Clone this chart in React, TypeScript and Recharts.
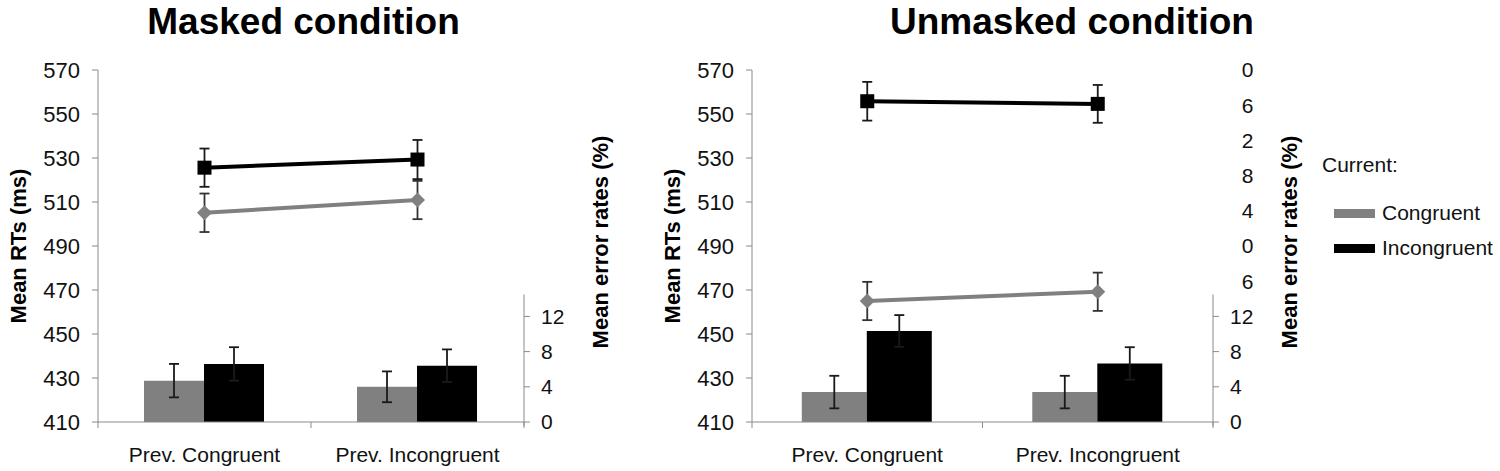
import React from "react";
import { ComposedChart, Bar, Line, XAxis, YAxis, ErrorBar, Legend } from "recharts";

const categories = ["Prev. Congruent", "Prev. Incongruent"];

// Masked condition: RTs (ms) with SE, error rates (%) with SE
const maskedRtCongruent = [505.1, 510.9];
const maskedRtCongruentSe = [8.75, 8.7];
const maskedRtIncongruent = [525.6, 529.3];
const maskedRtIncongruentSe = [8.7, 8.9];
const maskedErrCongruent = [4.7, 4.0];
const maskedErrCongruentSe = [1.9, 1.75];
const maskedErrIncongruent = [6.6, 6.4];
const maskedErrIncongruentSe = [1.9, 1.85];

// Unmasked condition
const unmaskedRtCongruent = [465.0, 469.2];
const unmaskedRtCongruentSe = [8.7, 8.7];
const unmaskedRtIncongruent = [555.8, 554.6];
const unmaskedRtIncongruentSe = [8.8, 8.6];
const unmaskedErrCongruent = [3.4, 3.4];
const unmaskedErrCongruentSe = [1.85, 1.85];
const unmaskedErrIncongruent = [10.35, 6.65];
const unmaskedErrIncongruentSe = [1.8, 1.85];

const rtTicks = [410, 430, 450, 470, 490, 510, 530, 550, 570];
const errTicksMasked = [0, 4, 8, 12];
const errTicksUnmasked = [0, 4, 8, 12, 16, 20, 24, 28, 32, 36, 40];

const FONT = '"Liberation Sans", Arial, sans-serif';
const TEXT = "#111";
const AXIS = "#8a8a8a";
const GRAY = "#808080";
const CHART_H = 471;
const PLOT_TOP = 70;
const X_AXIS_H = 49;
const PLOT_H = CHART_H - PLOT_TOP - X_AXIS_H;
const ERR_MAX = 40;
const ERR_LINE_TOP = 14.5;
const DIGIT_W = 11.7;

const makeRows = (
  rtC: number[], rtCSe: number[], rtI: number[], rtISe: number[],
  erC: number[], erCSe: number[], erI: number[], erISe: number[]
) =>
  categories.map((name, i) => ({
    name,
    rtCongruent: rtC[i],
    rtCongruentSe: rtCSe[i],
    rtIncongruent: rtI[i],
    rtIncongruentSe: rtISe[i],
    errCongruent: erC[i],
    errCongruentSe: erCSe[i],
    errIncongruent: erI[i],
    errIncongruentSe: erISe[i],
  }));

const maskedRows = makeRows(
  maskedRtCongruent, maskedRtCongruentSe, maskedRtIncongruent, maskedRtIncongruentSe,
  maskedErrCongruent, maskedErrCongruentSe, maskedErrIncongruent, maskedErrIncongruentSe
);
const unmaskedRows = makeRows(
  unmaskedRtCongruent, unmaskedRtCongruentSe, unmaskedRtIncongruent, unmaskedRtIncongruentSe,
  unmaskedErrCongruent, unmaskedErrCongruentSe, unmaskedErrIncongruent, unmaskedErrIncongruentSe
);

const SquareDot = (props: any) => {
  const { cx, cy, index } = props;
  if (cx == null || cy == null) return <g key={`sq-${index}`} />;
  return <rect key={`sq-${index}`} x={cx - 7} y={cy - 7} width={14} height={14} fill="#000" />;
};

const DiamondDot = (props: any) => {
  const { cx, cy, index } = props;
  if (cx == null || cy == null) return <g key={`dm-${index}`} />;
  const r = 7.5;
  return (
    <polygon
      key={`dm-${index}`}
      points={`${cx},${cy - r} ${cx + r},${cy} ${cx},${cy + r} ${cx - r},${cy}`}
      fill={GRAY}
    />
  );
};

const CurrentLegend = (props: any) => {
  const items = (props.payload || []).filter((p: any) => p.type !== "none");
  return (
    <div style={{ fontFamily: FONT, fontSize: 21, color: TEXT, textAlign: "left" }}>
      <div style={{ lineHeight: "24px", marginBottom: 18.5 }}>Current:</div>
      {items.map((p: any) => (
        <div key={p.value} style={{ display: "flex", alignItems: "center", height: 35, paddingLeft: 12 }}>
          <span style={{ display: "inline-block", width: 41, height: 9, background: p.color, marginRight: 7 }} />
          <span>{p.value}</span>
        </div>
      ))}
    </div>
  );
};

type PanelProps = {
  rows: any[];
  left: number;
  width: number;
  yLeftW: number;
  yRightW: number;
  marginRight: number;
  errTicks: number[];
  trimTens: boolean;
  withLegend: boolean;
};

function Panel(p: PanelProps) {
  const plotW = p.width - p.yLeftW - p.yRightW - p.marginRight;
  const band = plotW / categories.length;
  const midY = PLOT_TOP + PLOT_H / 2;

  const xTick = (t: any) => {
    const { x, y, payload, index } = t;
    const last = index === categories.length - 1;
    return (
      <g>
        <line x1={x - band / 2} y1={y} x2={x - band / 2} y2={y + 6} stroke={AXIS} />
        {last && <line x1={x + band / 2} y1={y} x2={x + band / 2} y2={y + 6} stroke={AXIS} />}
        <text x={x} y={y + 40} textAnchor="middle" fontSize={21} fill={TEXT} fontFamily={FONT}>
          {payload.value}
        </text>
      </g>
    );
  };

  const errTick = (t: any) => {
    const { x, y, payload } = t;
    const v = payload.value as number;
    const trimmed = p.trimTens && v > 12;
    const label = trimmed ? String(v % 10) : String(v);
    return (
      <g>
        {v <= 12 && <line x1={x} y1={y} x2={x + 6} y2={y} stroke={AXIS} />}
        {v === 0 && (
          <line x1={x} y1={y + 4} x2={x} y2={y - (PLOT_H * ERR_LINE_TOP) / ERR_MAX} stroke={AXIS} />
        )}
        <text x={x + 17 + (trimmed ? DIGIT_W : 0)} y={y} dy="0.35em" fontSize={21} fill={TEXT} fontFamily={FONT}>
          {label}
        </text>
      </g>
    );
  };

  const rtTitle = () => (
    <text
      x={p.yLeftW - 80}
      y={midY}
      transform={`rotate(-90, ${p.yLeftW - 80}, ${midY})`}
      textAnchor="middle"
      dominantBaseline="central"
      fontWeight="bold"
      fontSize={22}
      fill="#000"
      fontFamily={FONT}
    >
      Mean RTs (ms)
    </text>
  );

  const errTitleX = p.yLeftW + plotW + 76;
  const errTitle = () => (
    <text
      x={errTitleX}
      y={midY - 4}
      transform={`rotate(-90, ${errTitleX}, ${midY - 4})`}
      textAnchor="middle"
      dominantBaseline="central"
      fontWeight="bold"
      fontSize={22}
      fill="#000"
      fontFamily={FONT}
    >
      Mean error rates (%)
    </text>
  );

  return (
    <div style={{ position: "absolute", left: p.left, top: 0 }}>
      <ComposedChart
        width={p.width}
        height={CHART_H}
        data={p.rows}
        margin={{ top: PLOT_TOP, right: p.marginRight, bottom: 0, left: 0 }}
        barGap={0}
        barCategoryGap="21.6%"
      >
        <XAxis
          dataKey="name"
          height={X_AXIS_H}
          interval={0}
          tickSize={0}
          tickMargin={0}
          tickLine={false}
          axisLine={{ stroke: AXIS }}
          tick={xTick}
        />
        <YAxis
          yAxisId="rt"
          orientation="left"
          width={p.yLeftW}
          domain={[410, 570]}
          ticks={rtTicks}
          interval={0}
          tickSize={6}
          tickMargin={12}
          axisLine={{ stroke: AXIS }}
          tickLine={{ stroke: AXIS }}
          tick={{ fontSize: 22, fill: TEXT, fontFamily: FONT }}
          label={rtTitle}
        />
        <YAxis
          yAxisId="err"
          orientation="right"
          width={p.yRightW}
          domain={[0, ERR_MAX]}
          ticks={p.errTicks}
          interval={0}
          tickSize={0}
          tickMargin={0}
          axisLine={false}
          tickLine={false}
          tick={errTick}
          label={errTitle}
        />
        <Bar yAxisId="err" dataKey="errCongruent" name="Congruent" fill={GRAY} isAnimationActive={false}>
          <ErrorBar dataKey="errCongruentSe" width={5} stroke="#1a1a1a" strokeWidth={1.8} />
        </Bar>
        <Bar yAxisId="err" dataKey="errIncongruent" name="Incongruent" fill="#000" isAnimationActive={false}>
          <ErrorBar dataKey="errIncongruentSe" width={5} stroke="#1a1a1a" strokeWidth={1.8} />
        </Bar>
        <Line
          yAxisId="rt"
          dataKey="rtCongruent"
          stroke={GRAY}
          strokeWidth={4}
          dot={DiamondDot}
          activeDot={false}
          legendType="none"
          isAnimationActive={false}
        >
          <ErrorBar dataKey="rtCongruentSe" width={5} stroke="#333" strokeWidth={1.8} />
        </Line>
        <Line
          yAxisId="rt"
          dataKey="rtIncongruent"
          stroke="#000"
          strokeWidth={4}
          dot={SquareDot}
          activeDot={false}
          legendType="none"
          isAnimationActive={false}
        >
          <ErrorBar dataKey="rtIncongruentSe" width={5} stroke="#1a1a1a" strokeWidth={1.8} />
        </Line>
        {p.withLegend && (
          <Legend
            layout="horizontal"
            align="center"
            verticalAlign="middle"
            wrapperStyle={{ left: 682, top: 153, width: 190, height: 120 }}
            content={CurrentLegend}
          />
        )}
      </ComposedChart>
    </div>
  );
}

export default function App() {
  return (
    <div
      style={{
        position: "absolute",
        left: 0,
        top: 0,
        width: 1500,
        height: 471,
        background: "#fff",
        fontFamily: FONT,
        overflow: "hidden",
      }}
    >
      <svg width={1500} height={52} style={{ position: "absolute", left: 0, top: 0 }}>
        <text x={303.5} y={34} textAnchor="middle" fontSize={37} fontWeight="bold" fill="#000" fontFamily={FONT}>
          Masked condition
        </text>
        <text x={1072} y={34} textAnchor="middle" fontSize={37} fontWeight="bold" fill="#000" fontFamily={FONT}>
          Unmasked condition
        </text>
      </svg>
      <Panel
        rows={maskedRows}
        left={0}
        width={620}
        yLeftW={98}
        yRightW={96}
        marginRight={0}
        errTicks={errTicksMasked}
        trimTens={false}
        withLegend={false}
      />
      <Panel
        rows={unmaskedRows}
        left={640}
        width={860}
        yLeftW={112}
        yRightW={90}
        marginRight={197}
        errTicks={errTicksUnmasked}
        trimTens={true}
        withLegend={true}
      />
    </div>
  );
}
